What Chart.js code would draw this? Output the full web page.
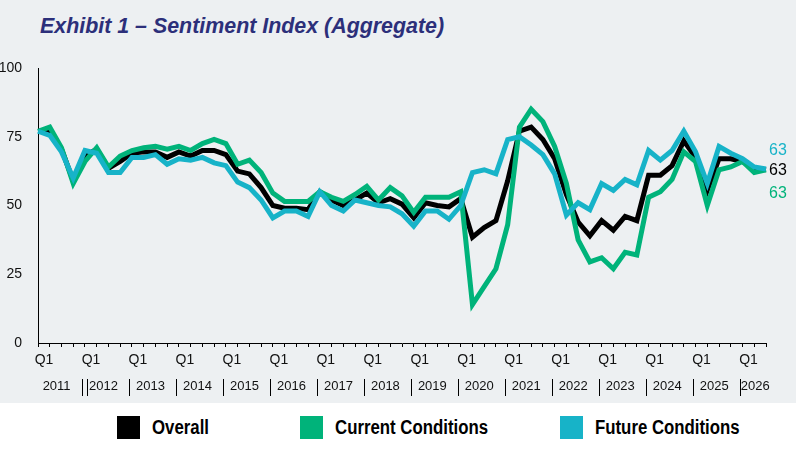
<!DOCTYPE html>
<html>
<head>
<meta charset="utf-8">
<script src="https://cdn.jsdelivr.net/npm/chart.js@4.4.0/dist/chart.umd.min.js"></script>
<style>
  html, body { margin: 0; padding: 0; }
  body { width: 796px; height: 449px; background: #edf0f2; position: relative; overflow: hidden; }
  #chart { position: absolute; left: 0; top: 0; }
  .title { position: absolute; left: 40px; top: 16px; white-space: nowrap; color: #2c2f7a;
           font: italic bold 21.4px/21px "Liberation Sans", Arial, sans-serif; }
  .legend-strip { position: absolute; left: 0; top: 403px; width: 796px; height: 46px; background: #fff; }
  .item { position: absolute; top: 13px; height: 23px; display: flex; align-items: center; }
  .swatch { width: 23px; height: 23px; margin-right: 12px; flex: none; }
  /* source uses a narrow bold face; squeeze the regular one to match */
  .item span { display: inline-block; transform: scaleX(0.84); transform-origin: left center; white-space: nowrap;
               font: bold 20px "Liberation Sans", Arial, sans-serif; color: #000; }
</style>
</head>
<body>
<div class="legend-strip">
  <div class="item" style="left:117px"><div class="swatch" style="background:#000"></div><span>Overall</span></div>
  <div class="item" style="left:300px"><div class="swatch" style="background:#00b37a"></div><span>Current Conditions</span></div>
  <div class="item" style="left:560px"><div class="swatch" style="background:#17b3c8"></div><span>Future Conditions</span></div>
</div>
<div class="title">Exhibit 1 – Sentiment Index (Aggregate)</div>
<canvas id="chart" width="796" height="449"></canvas>

<script>
// --- DATA (quarterly, 2011 Q1 .. 2026 Q3) ---
const years = ['2011','2012','2013','2014','2015','2016','2017','2018',
               '2019','2020','2021','2022','2023','2024','2025','2026'];

const overall = [77, 77, 70.5, 59, 68, 70.5, 63.5, 66, 69, 69.5, 69.5, 67.5, 69.5, 68, 70, 70,
                 68.5, 62.5, 61.5, 56.5, 50, 49, 49, 48.5, 55, 52, 50, 52, 54.5, 51, 52.5, 50.5,
                 45.5, 51, 50, 49.5, 52.5, 38.5, 42, 44.5, 59, 77, 78.5, 74, 67, 54, 44, 39,
                 44.5, 41, 46, 44.5, 61, 61, 64.5, 73.5, 67.5, 55.5, 67, 67, 66, 63.5, 63];

const current = [77, 78.5, 71, 58, 66, 71, 64, 68, 70, 71, 71.5, 70.5, 71.5, 70, 72.5, 74,
                 72.5, 65, 66.5, 62, 54.5, 51.5, 51.5, 51.5, 55, 53, 51.5, 54, 57, 52, 56.5, 53.5,
                 47.5, 53, 53, 53, 55, 14, 20.5, 27, 43, 78.5, 85, 80.5, 71.5, 58, 37.5, 29.5,
                 31, 27, 33, 32, 53, 55, 59.5, 69.5, 66, 50, 63, 64, 66, 62, 63];

const future = [77, 75.5, 69.5, 60, 70, 69, 62, 62, 67.5, 67.5, 68.5, 65, 67, 66.5, 67.5, 65.5,
                64.5, 58.5, 56.5, 52, 45.5, 48, 48, 46, 55, 50, 48, 52, 51, 50, 49.5, 47,
                42.5, 48, 48, 45, 50, 62, 63, 61.5, 74, 75, 72, 68.5, 61.5, 46.5, 51, 48.5,
                58, 55.5, 59.5, 57.5, 70, 66.5, 70, 77, 69.5, 58, 71.5, 69, 67, 64, 63.3];

// category labels, one per quarter
const quarters = [];
years.forEach(y => { for (let q = 1; q <= 4; q++) quarters.push(y + ' Q' + q); });
quarters.length = overall.length;

const GREEN = '#00b37a';
const BLUE = '#17b3c8';
const FONT = '"Liberation Sans", Arial, sans-serif';

// --- PLUGINS ---
// year row under the Q1 labels, with the little separators
const yearRow = {
    id: 'yearRow',
    afterDraw(chart) {
        const { ctx, scales: { x } } = chart;
        const last = quarters.length - 1;
        ctx.save();
        ctx.font = '13px ' + FONT;
        ctx.fillStyle = '#111';
        ctx.textAlign = 'center';
        ctx.textBaseline = 'middle';
        ctx.strokeStyle = '#000';
        ctx.lineWidth = 1;
        const rule = px => {
            const sx = Math.round(px) + 0.5;
            ctx.beginPath(); ctx.moveTo(sx, 379); ctx.lineTo(sx, 396); ctx.stroke();
        };
        years.forEach((yr, k) => {
            const a = x.getPixelForValue(k * 4);
            const b = x.getPixelForValue(Math.min(k * 4 + 3, last));
            ctx.fillText(yr, (a + b) / 2 + 1, 386);
            if (k > 0) rule(a - 3);
        });
        rule(x.getPixelForValue(4) + 2); // the source has a doubled rule before 2012
        ctx.restore();
    }
};

// latest value printed at the end of each line
const endLabels = {
    id: 'endLabels',
    afterDatasetsDraw(chart) {
        const { ctx } = chart;
        const shift = [1, 24, -18]; // overall, current, future
        ctx.save();
        ctx.font = '16px ' + FONT;
        ctx.textAlign = 'left';
        ctx.textBaseline = 'middle';
        chart.data.datasets.forEach((ds, i) => {
            const pts = chart.getDatasetMeta(i).data;
            const p = pts[pts.length - 1];
            ctx.fillStyle = i === 0 ? '#000' : ds.borderColor;
            ctx.fillText(Math.round(ds.data[ds.data.length - 1]), p.x + 3, p.y + shift[i]);
        });
        ctx.restore();
    }
};

// --- CHART ---
const ctx = document.getElementById('chart').getContext('2d');
new Chart(ctx, {
    type: 'line',
    data: {
        labels: quarters,
        datasets: [
            { label: 'Overall', data: overall, borderColor: '#000', order: 3 },
            { label: 'Current Conditions', data: current, borderColor: GREEN, order: 2 },
            { label: 'Future Conditions', data: future, borderColor: BLUE, order: 1 }
        ]
    },
    options: {
        responsive: false, animation: false,
        layout: { padding: { top: 68, right: 30, bottom: 76, left: 0 } },
        elements: {
            line: { borderWidth: 5, tension: 0, borderJoinStyle: 'miter', fill: false },
            point: { radius: 0, hoverRadius: 0 }
        },
        plugins: { legend: { display: false }, tooltip: { enabled: false } },
        scales: {
            x: {
                grid: { display: true, drawOnChartArea: false, drawTicks: true, tickLength: 4, color: '#000' },
                border: { display: true, color: '#000', width: 1 },
                ticks: {
                    autoSkip: false, maxRotation: 0, padding: 5, labelOffset: 6,
                    color: '#111', font: { size: 14, family: FONT },
                    callback: (v, i) => (i % 4 === 0 ? 'Q1' : '')
                },
                afterFit: s => { s.height = 30; }
            },
            y: {
                min: 0, max: 100,
                grid: { display: false, drawTicks: false },
                border: { display: true, color: '#000', width: 1 },
                ticks: { stepSize: 25, padding: 16, color: '#111', font: { size: 14, family: FONT } },
                afterFit: s => { s.width = 38; }
            }
        }
    },
    plugins: [yearRow, endLabels]
});
</script>
</body>
</html>
